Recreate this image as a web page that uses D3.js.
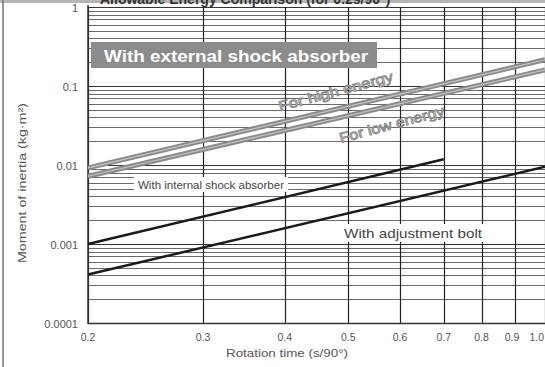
<!DOCTYPE html>
<html>
<head>
<meta charset="utf-8">
<script src="https://cdn.jsdelivr.net/npm/d3@7"></script>
<style>
  body { margin: 0; background: #fff; }
  svg { display: block; font-family: "Liberation Sans", Arial, sans-serif; }
</style>
</head>
<body>
<svg id="chart" width="545" height="367"></svg>
<script>
// Data
const xTicks = [0.2, 0.3, 0.4, 0.5, 0.6, 0.7, 0.8, 0.9, 1.0];
const yTicks = [0.0001, 0.001, 0.01, 0.1, 1];
const yTickLabels = ["0.0001", "0.001", "0.01", "0.1", "1"];

const highEnergyT = [0.2, 1.0];
const highEnergyI = [0.0092, 0.215];
const lowEnergyT = [0.2, 1.0];
const lowEnergyI = [0.0072, 0.16];
const internalT = [0.2, 0.7];
const internalI = [0.001, 0.0118];
const boltT = [0.2, 1.0];
const boltI = [0.00041, 0.0095];

const width = 545, height = 367;
const svg = d3.select("#chart");

//Scales
const x = d3.scaleLog().domain([0.2, 1.0]).range([88, 545]);
const y = d3.scaleLog().domain([0.0001, 1]).range([323, 7]);

//Title strip, cut off at top as in the scan
svg.append("rect").attr("x", 0).attr("y", 0).attr("width", width).attr("height", 3).attr("fill", "#b5b5b5");
svg.append("text")
    .attr("x", 100).attr("y", 4)
    .attr("font-size", 14).attr("font-weight", "bold").attr("fill", "#333")
    .text("Allowable Energy Comparison (for 0.2s/90°)");
//Left border
svg.append("line").attr("x1", 3).attr("x2", 3).attr("y1", 0).attr("y2", height)
    .attr("stroke", "#777").attr("stroke-width", 1.5);

const g = svg.append("g");

//Horizontal grid (minor then decades)
const minor = y.ticks().filter(v => yTicks.indexOf(v) < 0);
g.selectAll(".hminor")
    .data(minor)
    .enter().append("line")
    .attr("x1", 88).attr("x2", width)
    .attr("y1", d => Math.round(y(d)) + 0.5).attr("y2", d => Math.round(y(d)) + 0.5)
    .attr("stroke", "#6a6a6a").attr("stroke-width", 1);
g.selectAll(".hmajor")
    .data(yTicks)
    .enter().append("line")
    .attr("x1", 88).attr("x2", width)
    .attr("y1", d => Math.round(y(d)) + 0.5).attr("y2", d => Math.round(y(d)) + 0.5)
    .attr("stroke", "#333").attr("stroke-width", 1.2);

//Vertical grid
g.selectAll(".vgrid")
    .data(xTicks)
    .enter().append("line")
    .attr("x1", d => Math.round(x(d)) + 0.5).attr("x2", d => Math.round(x(d)) + 0.5)
    .attr("y1", 7).attr("y2", 323)
    .attr("stroke", "#222").attr("stroke-width", 1.2);

//Axis frame
g.append("line").attr("x1", 88).attr("x2", 88).attr("y1", 5).attr("y2", 324)
    .attr("stroke", "#333").attr("stroke-width", 1.5);
g.append("line").attr("x1", 88).attr("x2", width).attr("y1", 323.5).attr("y2", 323.5)
    .attr("stroke", "#333").attr("stroke-width", 1.5);

//Tick labels
g.selectAll(".ylab")
    .data(yTicks)
    .enter().append("text")
    .attr("x", 78).attr("y", d => y(d) + 5)
    .attr("text-anchor", "end").attr("font-size", 11).attr("fill", "#555")
    .text((d, i) => yTickLabels[i]);

g.selectAll(".xlab")
    .data(xTicks)
    .enter().append("text")
    .attr("x", d => d === 1.0 ? x(d) - 1 : (d === 0.9 ? x(d) - 3 : x(d)))
    .attr("y", 341)
    .attr("text-anchor", d => d === 1.0 ? "end" : "middle")
    .attr("font-size", 10.5).attr("fill", "#555")
    .text(d => d.toFixed(1));

//Axis titles
svg.append("text")
    .attr("x", 287).attr("y", 357)
    .attr("text-anchor", "middle").attr("font-size", 11).attr("fill", "#555")
    .attr("textLength", 122).attr("lengthAdjust", "spacingAndGlyphs")
    .text("Rotation time (s/90°)");
svg.append("text")
    .attr("transform", "translate(26,183) rotate(-90)")
    .attr("text-anchor", "middle").attr("font-size", 11).attr("fill", "#555")
    .attr("textLength", 160).attr("lengthAdjust", "spacingAndGlyphs")
    .text("Moment of inertia (kg·m²)");

//Lines
const line = d3.line().x(d => x(d[0])).y(d => y(d[1]));
const zip = (a, b) => a.map((v, i) => [v, b[i]]);

[[highEnergyT, highEnergyI], [lowEnergyT, lowEnergyI]].forEach(s => {
    g.append("path").datum(zip(s[0], s[1]))
        .attr("d", line).attr("fill", "none")
        .attr("stroke", "#8a8a8a").attr("stroke-width", 5);
    g.append("path").datum(zip(s[0], s[1]))
        .attr("d", line).attr("fill", "none")
        .attr("stroke", "#c4c4c4").attr("stroke-width", 1.2);
});

[[internalT, internalI], [boltT, boltI]].forEach(s => {
    g.append("path").datum(zip(s[0], s[1]))
        .attr("d", line).attr("fill", "none")
        .attr("stroke", "#1a1a1a").attr("stroke-width", 2.5);
});

//External shock absorber label box
svg.append("rect").attr("x", 91).attr("y", 42).attr("width", 286).attr("height", 26).attr("fill", "#8c8c8c");
svg.append("text")
    .attr("x", 104).attr("y", 62)
    .attr("font-size", 17).attr("font-weight", "bold").attr("fill", "#fff")
    .attr("textLength", 264).attr("lengthAdjust", "spacingAndGlyphs")
    .text("With external shock absorber");

//Rotated energy labels (outlined text)
[["For high energy", 337, 96, 118], ["For low energy", 393, 129, 108]].forEach(l => {
    svg.append("text")
        .attr("transform", `translate(${l[1]},${l[2]}) rotate(-15)`)
        .attr("text-anchor", "middle").attr("font-size", 14)
        .attr("textLength", l[3]).attr("lengthAdjust", "spacingAndGlyphs")
        .attr("fill", "#fff").attr("stroke", "#888").attr("stroke-width", 0.9)
        .text(l[0]);
});

//Internal shock absorber label
svg.append("rect").attr("x", 134).attr("y", 177).attr("width", 154).attr("height", 15).attr("fill", "#fff");
svg.append("text")
    .attr("x", 211).attr("y", 189)
    .attr("text-anchor", "middle").attr("font-size", 10.5).attr("fill", "#444")
    .attr("textLength", 146).attr("lengthAdjust", "spacingAndGlyphs")
    .text("With internal shock absorber");

//Adjustment bolt label
svg.append("rect").attr("x", 339).attr("y", 224).attr("width", 148).attr("height", 18).attr("fill", "#fff");
svg.append("text")
    .attr("x", 413).attr("y", 238)
    .attr("text-anchor", "middle").attr("font-size", 13).attr("fill", "#444")
    .attr("textLength", 138).attr("lengthAdjust", "spacingAndGlyphs")
    .text("With adjustment bolt");
</script>
</body>
</html>
